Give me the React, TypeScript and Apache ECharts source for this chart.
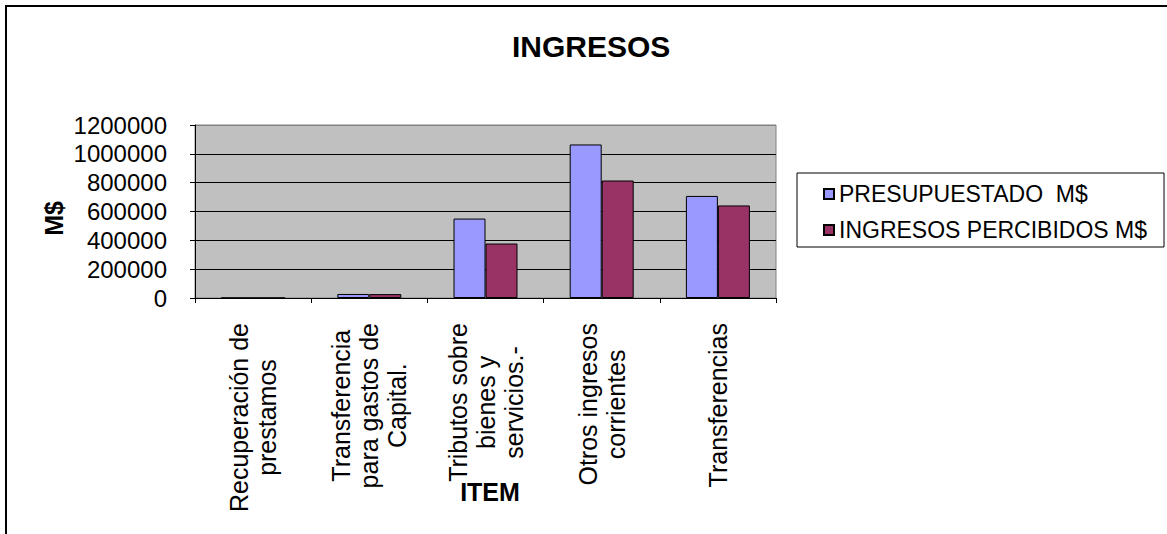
import React, { useEffect, useRef } from 'react';
import * as echarts from 'echarts';

const categories = [
  'Recuperación de\nprestamos',
  'Transferencia\npara gastos de\nCapital.',
  'Tributos sobre\nbienes y\nservicios.-',
  'Otros ingresos\ncorrientes',
  'Transferencias',
];
const seriesNames = ['PRESUPUESTADO  M$', 'INGRESOS PERCIBIDOS M$'];
const presupuestado = [1000, 28000, 551000, 1065000, 708000];
const percibidos = [800, 27000, 378000, 815000, 642000];
const yMin = 0;
const yMax = 1200000;
const yInterval = 200000;

const FONT = '"Liberation Sans", Arial, Helvetica, sans-serif';

export default function App() {
  const ref = useRef<HTMLDivElement>(null);
  useEffect(() => {
    document.body.style.margin = '0';
    const chart = echarts.init(ref.current!, null, { renderer: 'svg' });
    chart.setOption({
      animation: false,
      backgroundColor: '#ffffff',
      textStyle: { fontFamily: FONT, color: '#000' },
      title: {
        text: 'INGRESOS',
        left: 512,
        top: 31,
        padding: 0,
        textStyle: { fontFamily: FONT, fontSize: 30, fontWeight: 'bold', color: '#000' },
      },
      legend: {
        orient: 'vertical',
        left: 797,
        top: 173,
        padding: [9, 17, 5, 26],
        itemGap: 12,
        itemWidth: 10,
        itemHeight: 10,
        borderColor: '#000',
        borderWidth: 1,
        icon: 'rect',
        textStyle: { fontFamily: FONT, fontSize: 23, color: '#000', lineHeight: 24 },
        data: seriesNames,
      },
      graphic: [
        {
          type: 'rect',
          shape: { x: 6, y: 6, width: 1175, height: 545 },
          style: { fill: 'none', stroke: '#000', lineWidth: 2 },
          silent: true,
        },
      ],
      grid: {
        left: 195,
        top: 125,
        right: 391,
        bottom: 236,
        show: true,
        backgroundColor: '#C0C0C0',
        borderColor: '#808080',
        borderWidth: 1,
      },
      xAxis: {
        type: 'category',
        data: categories,
        name: 'ITEM',
        nameLocation: 'middle',
        nameGap: 181,
        nameMoveOverlap: false,
        nameTextStyle: { fontFamily: FONT, fontSize: 25, fontWeight: 'bold', color: '#000', padding: [0, 0, 0, 9] },
        axisLine: { show: true, lineStyle: { color: '#000', width: 1 } },
        axisTick: { show: true, alignWithLabel: false, length: 5, lineStyle: { color: '#000' } },
        axisLabel: {
          rotate: 90,
          margin: 25,
          interval: 0,
          color: '#000',
          fontFamily: FONT,
          fontSize: 25,
          lineHeight: 28,
          formatter: (v: string) => v.split('\n').map((l) => '{c|' + l + '}').join('\n'),
          rich: {
            c: { align: 'center', fontFamily: FONT, fontSize: 25, lineHeight: 28, color: '#000' },
          },
        },
        splitLine: { show: false },
      },
      yAxis: {
        type: 'value',
        min: yMin,
        max: yMax,
        interval: yInterval,
        name: 'M$',
        nameLocation: 'middle',
        nameGap: 129,
        nameMoveOverlap: false,
        nameTextStyle: { fontFamily: FONT, fontSize: 25, fontWeight: 'bold', color: '#000', padding: [0, 14, 0, 0] },
        axisLine: { show: true, lineStyle: { color: '#000', width: 1 } },
        axisTick: { show: true, length: 5, lineStyle: { color: '#000' } },
        axisLabel: {
          margin: 28,
          color: '#000',
          fontFamily: FONT,
          fontSize: 24,
          formatter: (v: number) => String(v),
        },
        splitLine: {
          show: true,
          lineStyle: { color: ['#000', '#000', '#000', '#000', '#000', '#000', '#808080'], width: 1 },
        },
      },
      series: [
        {
          name: seriesNames[0],
          type: 'bar',
          data: presupuestado,
          barWidth: 32,
          barGap: '0%',
          itemStyle: { color: '#9999FF', borderColor: '#000', borderWidth: 1 },
        },
        {
          name: seriesNames[1],
          type: 'bar',
          data: percibidos,
          barWidth: 32,
          barGap: '0%',
          itemStyle: { color: '#993366', borderColor: '#000', borderWidth: 1 },
        },
      ],
    });
    return () => chart.dispose();
  }, []);
  return <div ref={ref} style={{ width: 1167, height: 534 }} />;
}
